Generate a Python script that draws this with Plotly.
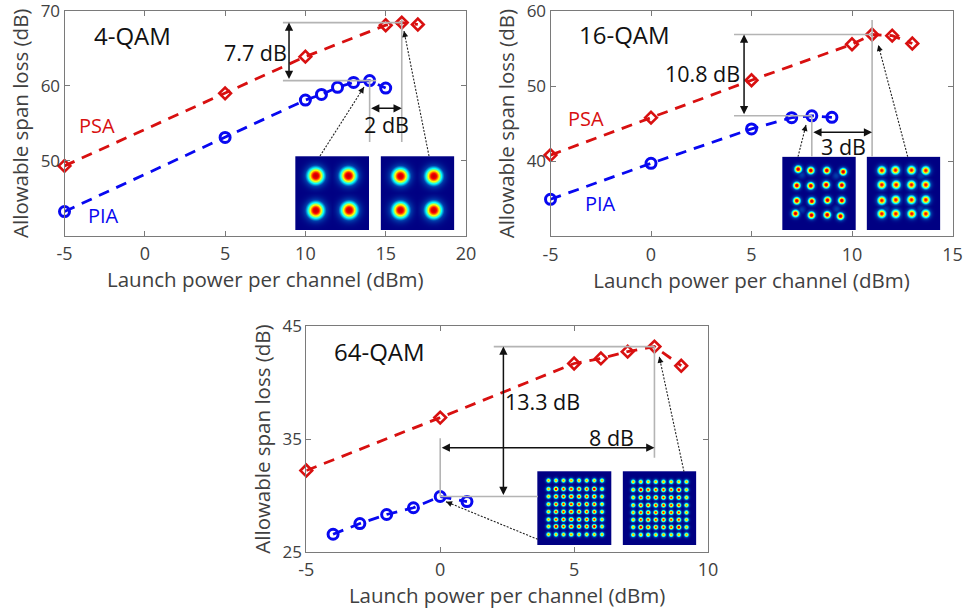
import numpy as np
import plotly.graph_objects as go

# ---------- data ----------
qam4_pia_x = [-5, 5, 10, 11, 12, 13, 14, 15]
qam4_pia_y = [43.2, 53.1, 58.1, 58.85, 59.8, 60.45, 60.7, 59.7]
qam4_psa_x = [-5, 5, 10, 15, 16, 17]
qam4_psa_y = [49.3, 59.0, 63.9, 68.1, 68.45, 68.2]

qam16_pia_x = [-5, 0, 5, 7, 8, 9]
qam16_pia_y = [34.9, 39.7, 44.3, 45.8, 46.05, 45.85]
qam16_psa_x = [-5, 0, 5, 10, 11, 12, 13]
qam16_psa_y = [40.8, 45.8, 50.8, 55.6, 56.9, 56.75, 55.7]

qam64_pia_x = [-4, -3, -2, -1, 0, 1]
qam64_pia_y = [26.55, 27.5, 28.3, 28.9, 29.9, 29.45]
qam64_psa_x = [-5, 0, 5, 6, 7, 8, 9]
qam64_psa_y = [32.2, 36.9, 41.7, 42.15, 42.75, 43.2, 41.5]

# constellation spot centres inside each 74 px inset (inset pixels)
c4a = [(20.3, 19.3), (53, 19.3), (20.3, 54), (53.7, 53.7)]
c4b = [(20, 19.7), (53.3, 19.7), (20, 53.7), (53.3, 53.7)]
c16a = [(15.7, 12.7), (28.3, 14), (44.3, 14), (60.7, 15.3),
        (14.3, 29), (28.3, 29.3), (43.7, 28.3), (59.3, 28.7),
        (14.3, 44.3), (29.3, 44.7), (45, 43.7), (59.3, 44),
        (13, 57), (29, 58.7), (44.7, 58.3), (58, 59.7)]
c16b = [(15.3, 14), (29, 13.7), (45, 13.7), (59.3, 14),
        (15.3, 28.3), (29.7, 28.3), (45, 28.3), (59.3, 28.3),
        (15.3, 44), (29.3, 43.3), (45, 43.3), (59.3, 43.3),
        (15.3, 57.3), (29.3, 57.3), (45.3, 57.3), (59.3, 57.3)]
c16a_faint = [(19.3, 18.3), (53.7, 19.3), (19.3, 53.3), (54.3, 52.7)]
c16b_faint = [(55, 19), (19, 53.5), (54.5, 53)]
c64a_cols = [11, 18.5, 26, 33.5, 41, 48.7, 56.3, 64]
c64a_rows = [9, 17.5, 25, 32.7, 40.3, 48, 55, 63]
c64b_cols = [10.7, 18.3, 25.7, 33.3, 41, 48.7, 56.3, 64]
c64b_rows = [10.3, 18.3, 26, 33.7, 41, 48.3, 55.7, 63.3]

FONT = "Open Sans"
GREY = "#404040"
RED = "#d81010"
BLUE = "#0808f0"
W, H = 965, 613


def px(x):
    return x / W


def py(y):
    return 1 - y / H


fig = go.Figure()

panels = [
    dict(box=(64.5, 466, 11, 235.5), xr=[-5, 20], yr=[40, 70], xt=[-5, 0, 5, 10, 15, 20], yt=[50, 60, 70],
         pia=(qam4_pia_x, qam4_pia_y), psa=(qam4_psa_x, qam4_psa_y)),
    dict(box=(550.5, 952.5, 11.3, 236), xr=[-5, 15], yr=[30, 60], xt=[-5, 0, 5, 10, 15], yt=[40, 50, 60],
         pia=(qam16_pia_x, qam16_pia_y), psa=(qam16_psa_x, qam16_psa_y)),
    dict(box=(306.3, 708, 326.3, 551.7), xr=[-5, 10], yr=[25, 45], xt=[-5, 0, 5, 10], yt=[25, 35, 45],
         pia=(qam64_pia_x, qam64_pia_y), psa=(qam64_psa_x, qam64_psa_y)),
]

layout = {}
for i, p in enumerate(panels):
    s = "" if i == 0 else str(i + 1)
    l, r, t, b = p["box"]
    axis = dict(showgrid=False, zeroline=False, showline=True, linecolor="#7a7a7a", linewidth=1,
                mirror="ticks", ticks="inside", ticklen=5, tickcolor="#7a7a7a", tickwidth=1, automargin=False,
                ticklabeloverflow="allow", tickfont=dict(family=FONT, size=18, color=GREY))
    layout["xaxis" + s] = dict(axis, domain=[px(l), px(r)], range=p["xr"], tickvals=p["xt"],
                               ticktext=[str(v) for v in p["xt"]], anchor="y" + s, ticklabelstandoff=2,
                               title=dict(text="Launch power per channel (dBm)", standoff=8,
                                          font=dict(family=FONT, size=20.5, color=GREY)))
    layout["yaxis" + s] = dict(axis, domain=[py(b), py(t)], range=p["yr"], tickvals=p["yt"],
                               ticktext=[str(v) for v in p["yt"]], anchor="x" + s,
                               tickfont=dict(family=FONT, size=17, color=GREY),
                               title=dict(text="Allowable span loss (dB)", standoff=6,
                                          font=dict(family=FONT, size=20.5, color=GREY)))
    for key, col, sym, size, lw in (("psa", RED, "diamond-open", 9, 2.6), ("pia", BLUE, "circle-open", 10, 3)):
        fig.add_trace(go.Scatter(x=p[key][0], y=p[key][1], xaxis="x" + s, yaxis="y" + s, mode="lines+markers",
                                 line=dict(color=col, width=2.8, dash="11px,8px"),
                                 marker=dict(symbol=sym, size=size, color=col, line=dict(width=lw, color=col)),
                                 showlegend=False, cliponaxis=False))


# ---------- constellation insets ----------
def spots(centres, amps, sigma):
    g = np.arange(0, 74, 0.5)
    xx, yy = np.meshgrid(g, g)
    z = np.zeros_like(xx)
    for (cx, cy), a in zip(centres, amps):
        z = np.maximum(z, a * np.exp(-((xx - cx) ** 2 + (yy - cy) ** 2) / (2 * sigma ** 2)))
    return g, z


c64a = [(x, y) for y in c64a_rows for x in c64a_cols]
c64b = [(x, y) for y in c64b_rows for x in c64b_cols]
a64 = [0.92 if (r in (1, 6) and c in (1, 6)) else (0.8 if 0 < r < 7 and 0 < c < 7 else 0.68)
       for r in range(8) for c in range(8)]
a16a = [0.88] * 16 + [0.2] * 4
a16b = [0.8] * 16 + [0.2] * 3

insets = [
    (295.3, 369, 156.3, 230, c4a, [0.89] * 4, 6.2),
    (380.7, 454.3, 156.3, 230, c4b, [0.88] * 4, 6.2),
    (782.3, 855.7, 156.7, 230, c16a + c16a_faint, a16a, 2.7),
    (866.7, 940.3, 156.7, 230, c16b + c16b_faint, a16b, 3.2),
    (537.3, 611.3, 471.3, 545, c64a, a64, 1.7),
    (622.7, 696.3, 471.3, 545, c64b, a64, 1.75),
]
for k, (l, r, t, b, cen, amp, sig) in enumerate(insets):
    n = k + 4
    g, z = spots(cen, amp, sig)
    fig.add_trace(go.Heatmap(x=g, y=g, z=z, xaxis=f"x{n}", yaxis=f"y{n}", colorscale="Jet", zmin=0, zmax=1,
                             showscale=False, hoverinfo="skip"))
    layout[f"xaxis{n}"] = dict(domain=[px(l), px(r)], range=[0, 73.5], visible=False, anchor=f"y{n}")
    layout[f"yaxis{n}"] = dict(domain=[py(b), py(t)], range=[73.5, 0], visible=False, anchor=f"x{n}")

shapes = []
annots = []


def guide(s, x0, y0, x1, y1):
    shapes.append(dict(type="line", xref="x" + s, yref="y" + s, x0=x0, y0=y0, x1=x1, y1=y1,
                       line=dict(color="#b4b4b4", width=1.6), layer="above"))


def dbl_arrow(s, x0, y0, x1, y1):
    annots.append(dict(xref="x" + s, yref="y" + s, axref="x" + s, ayref="y" + s, x=x1, y=y1, ax=x0, ay=y0,
                       text="", showarrow=True, arrowhead=2, arrowside="end+start", arrowsize=1.1,
                       arrowwidth=1.5, arrowcolor="#111111"))


def leader(x0, y0, x1, y1):
    shapes.append(dict(type="line", xref="paper", yref="paper", x0=px(x0), y0=py(y0), x1=px(x1), y1=py(y1),
                       line=dict(color="#222222", width=1.1, dash="2px,1.5px"), layer="above"))
    d = np.hypot(x1 - x0, y1 - y0)
    ux, uy = (x1 - x0) / d, (y1 - y0) / d
    annots.append(dict(xref="paper", yref="paper", x=px(x1), y=py(y1), ax=-ux * 8, ay=-uy * 8, axref="pixel",
                       ayref="pixel", text="", showarrow=True, arrowhead=2, arrowsize=1.0, arrowwidth=1.2,
                       arrowcolor="#111111"))


def label(x, y, text, color="#111111", size=21.5):
    annots.append(dict(xref="paper", yref="paper", x=px(x), y=py(y), text=text, showarrow=False,
                       xanchor="center", yanchor="middle", font=dict(family=FONT, size=size, color=color)))


# 4-QAM
guide("", 8.6, 68.45, 16, 68.45)
guide("", 8.6, 60.7, 14.4, 60.7)
guide("", 14, 60.7, 14, 52.5)
guide("", 16, 68.9, 16, 52.5)
dbl_arrow("", 8.98, 60.7, 8.98, 68.45)
dbl_arrow("", 14, 57, 16, 57)
leader(320, 156, 364, 87)
leader(429, 156, 404, 31)
label(255, 52, "7.7 dB")
label(386, 124, "2 dB")
label(132, 35, "4-QAM", size=24)
label(97, 126, "PSA", RED, 20)
label(103, 216, "PIA", BLUE, 20)

# 16-QAM
guide("2", 4.13, 56.9, 11, 56.9)
guide("2", 4.13, 46.05, 8, 46.05)
guide("2", 11, 58.84, 11, 40.6)
guide("2", 8, 46.05, 8, 40.6)
dbl_arrow("2", 4.63, 46.05, 4.63, 56.9)
dbl_arrow("2", 8, 43.85, 11, 43.85)
leader(798, 156.7, 806, 125)
leader(907.7, 156.7, 878.3, 45)
label(702.7, 74, "10.8 dB")
label(843, 146.7, "3 dB")
label(624, 34, "16-QAM", size=24)
label(586, 118, "PSA", RED, 20)
label(600.7, 203, "PIA", BLUE, 20)

# 64-QAM
guide("3", 2.0, 43.2, 8, 43.2)
guide("3", 0, 29.9, 3.65, 29.9)
guide("3", 0, 35.06, 0, 29.9)
guide("3", 8, 43.2, 8, 33.34)
dbl_arrow("3", 2.36, 29.9, 2.36, 43.2)
dbl_arrow("3", 0, 34.23, 8, 34.23)
leader(537.7, 539.3, 446, 501.7)
leader(684, 471.7, 659.3, 356.7)
label(542.7, 401.7, "13.3 dB")
label(611, 437.3, "8 dB")
label(379.3, 351.7, "64-QAM", size=24)

fig.update_layout(width=W, height=H, margin=dict(l=0, r=0, t=0, b=0), paper_bgcolor="white",
                  plot_bgcolor="white", showlegend=False, shapes=shapes, annotations=annots,
                  font=dict(family=FONT), **layout)
fig.write_html("out.html", config=dict(displayModeBar=False),
               post_script="document.body.style.margin='0';document.body.style.overflow='hidden';")
